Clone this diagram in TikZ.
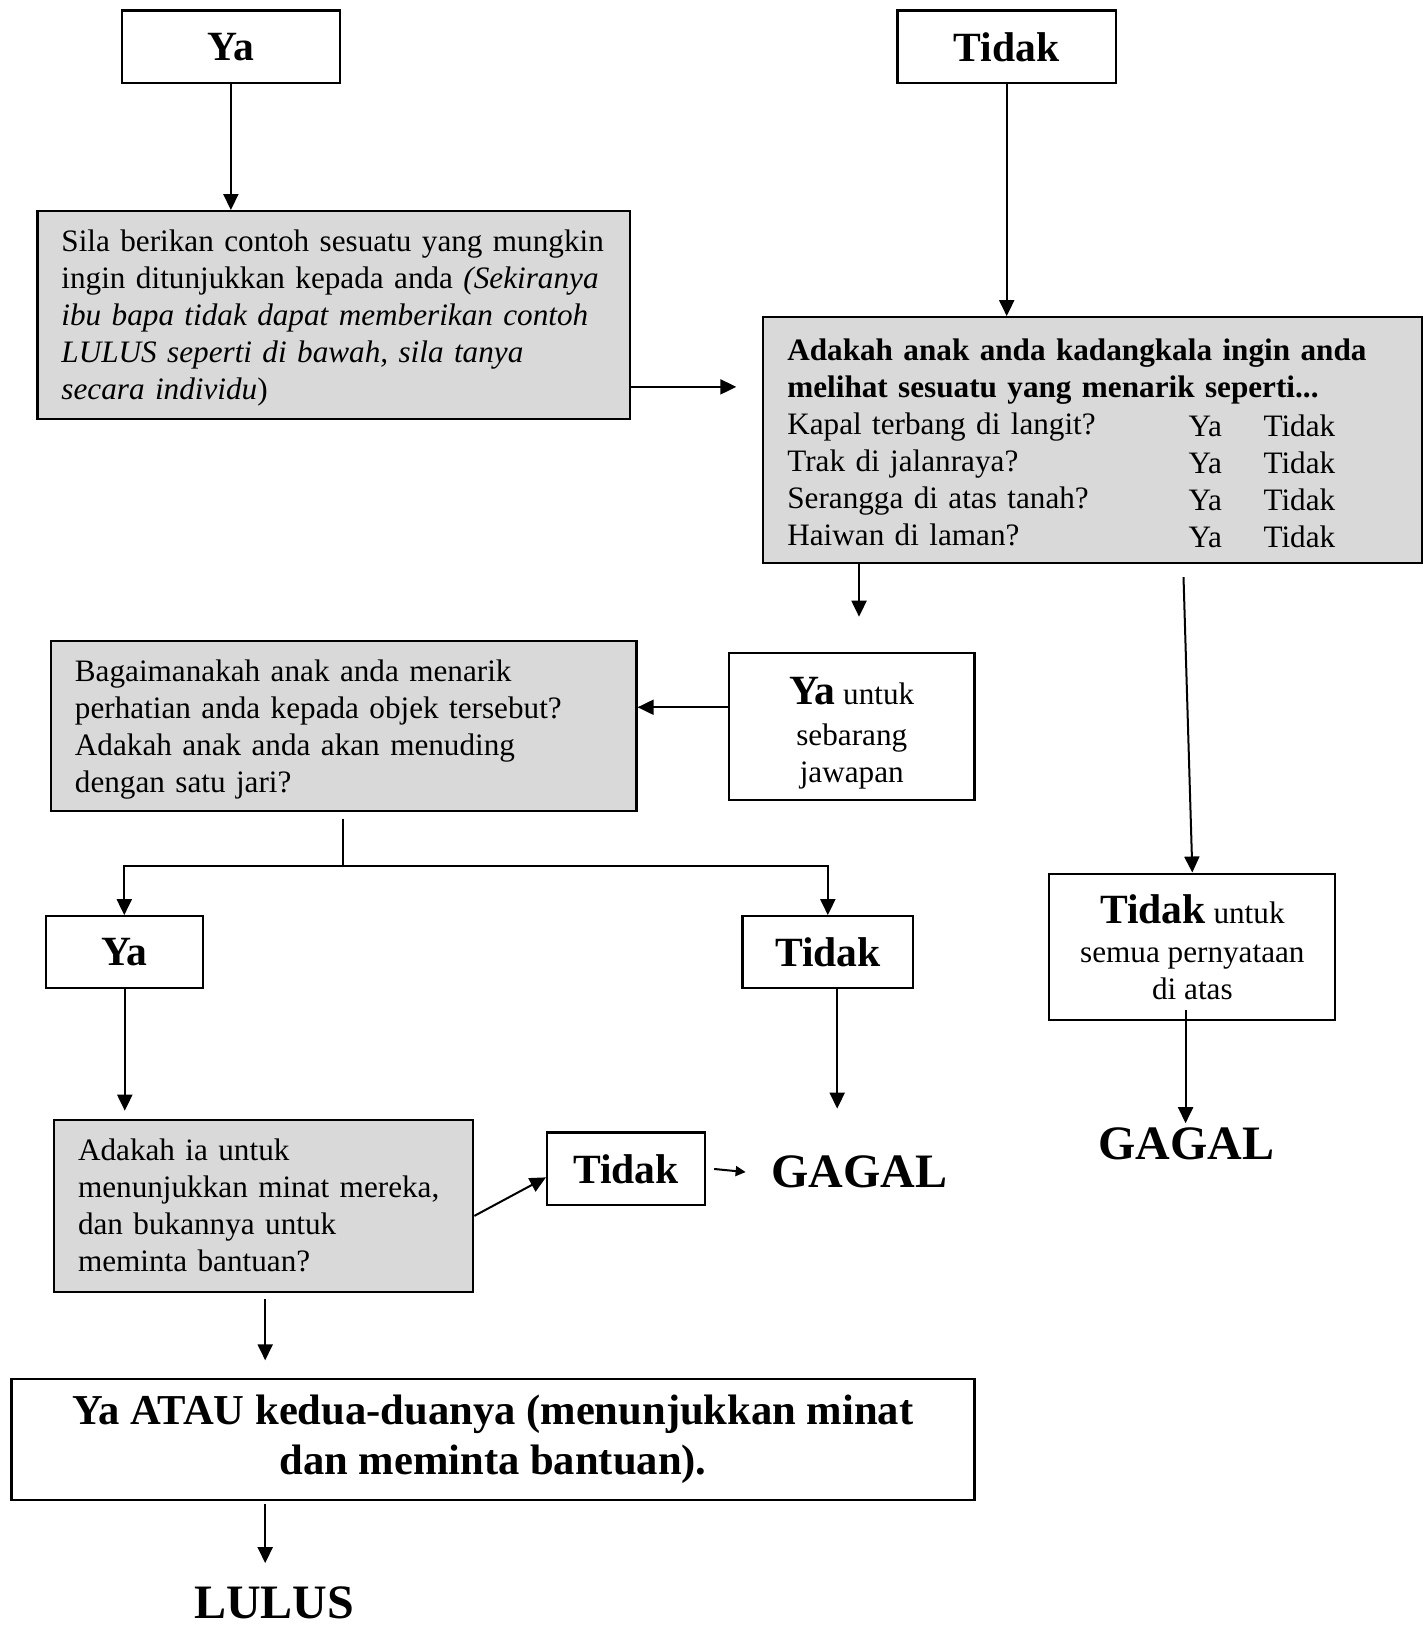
\documentclass[tikz,border=0pt]{standalone}
\usepackage{fontspec}
\setmainfont{Liberation Serif}
\usetikzlibrary{arrows.meta,calc}
\definecolor{boxgray}{RGB}{217,217,217}
\newcommand\fbody{\fontsize{15.6}{18.5}\selectfont}
\newcommand\fhead{\fontsize{20.8}{24}\selectfont\bfseries}
\newcommand\fend{\fontsize{24}{28}\selectfont\bfseries}
\newcommand\qrow[1]{\makebox[200.7pt][l]{#1}\raisebox{-1pt}{\makebox[37.4pt][l]{Ya}Tidak}}
\begin{document}
\begin{tikzpicture}[x=0.52pt,y=-0.52pt,
  box/.style={draw=black,line width=1.1pt,rectangle,inner sep=0pt,font=\fbody},
  gbox/.style={box,fill=boxgray,align=left,inner xsep=12pt},
  wbox/.style={box,fill=white,align=center},
  arr/.style={line width=1pt,-{Triangle[length=8pt,width=7.5pt]}},
  sarr/.style={line width=1pt,-{Triangle[length=5pt,width=5pt]}},
  endtxt/.style={inner sep=0pt,font=\fend}]
\path[fill=white] (0,0) rectangle (1373.08,1566.35);
\useasboundingbox (0,0) rectangle (1373.08,1566.35);

% top boxes
\node[wbox,font=\fhead,minimum width=109.2pt,minimum height=36.4pt] (ya1) at (222,45) {Ya};
\node[wbox,font=\fhead,minimum width=109.2pt,minimum height=36.4pt] (tid1) at (968,45) {Tidak};

% gray question boxes
\node[gbox,text width=272.4pt,minimum height=104pt] (sila) at (321,303)
 {\rule{0pt}{14pt}\mbox{Sila berikan contoh sesuatu yang mungkin}\\
  \mbox{ingin ditunjukkan kepada anda \textit{(Sekiranya}}\\
  \mbox{\textit{ibu bapa tidak dapat memberikan contoh}}\\
  \mbox{\textit{LULUS seperti di bawah, sila tanya}}\\
  \mbox{\textit{secara individu})}};

\node[gbox,text width=305.2pt,minimum height=122.7pt] (q1) at (1050.5,423)
 {\rule{0pt}{14pt}\mbox{\textbf{Adakah anak anda kadangkala ingin anda}}\\
  \mbox{\textbf{melihat sesuatu yang menarik seperti...}}\\
  \qrow{Kapal terbang di langit?}\\
  \qrow{Trak di jalanraya?}\\
  \qrow{Serangga di atas tanah?}\\
  \qrow{Haiwan di laman?}};

\node[gbox,text width=268.8pt,minimum height=85.3pt] (bag) at (330.5,698)
 {\rule{0pt}{14pt}\mbox{Bagaimanakah anak anda menarik}\\
  \mbox{perhatian anda kepada objek tersebut?}\\
  \mbox{Adakah anak anda akan menuding}\\
  \mbox{dengan satu jari?}};

\node[wbox,minimum width=122.7pt,minimum height=73.3pt] (yaany) at (819,698.5)
 {\rule{0pt}{20pt}{\fhead Ya} untuk\\[2pt] sebarang\\ jawapan};

\node[wbox,minimum width=143pt,minimum height=73.3pt] (tidall) at (1146.5,910.5)
 {{\fhead Tidak} untuk\\[1pt] semua pernyataan\\ di atas};

\node[wbox,font=\fhead,minimum width=78.5pt,minimum height=35.9pt] (ya2) at (119.5,915.5) {Ya};
\node[wbox,font=\fhead,minimum width=85.3pt,minimum height=35.9pt] (tid2) at (796,915.5) {Tidak};

\node[gbox,text width=185.6pt,minimum height=85.8pt] (ia) at (253.5,1159.5)
 {\mbox{Adakah ia untuk}\\
  \mbox{menunjukkan minat mereka,}\\
  \mbox{dan bukannya untuk}\\
  \mbox{meminta bantuan?}};

\node[wbox,font=\fhead,minimum width=79pt,minimum height=36.4pt] (tid3) at (602,1124) {Tidak};

\node[endtxt] (gagal1) at (826,1127) {GAGAL};
\node[endtxt] (gagal2) at (1141,1100) {GAGAL};

\node[wbox,font=\fontsize{21.3}{25}\selectfont\bfseries,minimum width=481.5pt,minimum height=60.3pt] (both) at (474,1384)
 {Ya ATAU kedua-duanya (menunjukkan minat\\ dan meminta bantuan).};

\node[endtxt,anchor=base] (lulus) at (263.5,1556) {LULUS};

% connectors
\draw[arr] (ya1.south) -- (ya1.south |- sila.north);
\draw[arr] (tid1.south) -- (tid1.south |- q1.north);
\coordinate (c1) at (708,372);
\draw[arr] (c1 -| sila.east) -- (c1);
\coordinate (c2) at (826,593);
\draw[arr] (c2 |- q1.south) -- (c2);
\coordinate (c3) at (1138,555);
\draw[arr] (c3) -- (tidall.north);
\draw[arr] ([yshift=9.6pt]yaany.west) -- ([yshift=9.6pt]yaany.west -| bag.east);
\coordinate (j) at (330,833);
\draw[line width=1pt] ($(j |- bag.south)+(0,6)$) -- (j);
\draw[arr] (j) -| (ya2.north);
\draw[arr] (j) -| (tid2.north);
\coordinate (c4) at (120,1068);
\draw[arr] (c4 |- ya2.south) -- (c4);
\coordinate (c5) at (805,1066);
\draw[arr] (c5 |- tid2.south) -- (c5);
\draw[arr] ([yshift=-5pt]ia.east) -- ([yshift=-4.2pt]tid3.west);
\draw[sarr] ([xshift=4pt]tid3.east) -- ([xshift=-12.5pt]gagal1.west);
\coordinate (c6) at (255,1308);
\draw[arr] ($(c6 |- ia.south)+(0,6)$) -- (c6);
\coordinate (c7) at (255,1503);
\draw[arr] ($(c7 |- both.south)+(0,3)$) -- (c7);
\coordinate (c8) at (1140,1080);
\draw[arr] ($(c8 |- tidall.south)+(0,-11)$) -- (c8);
\end{tikzpicture}
\end{document}
